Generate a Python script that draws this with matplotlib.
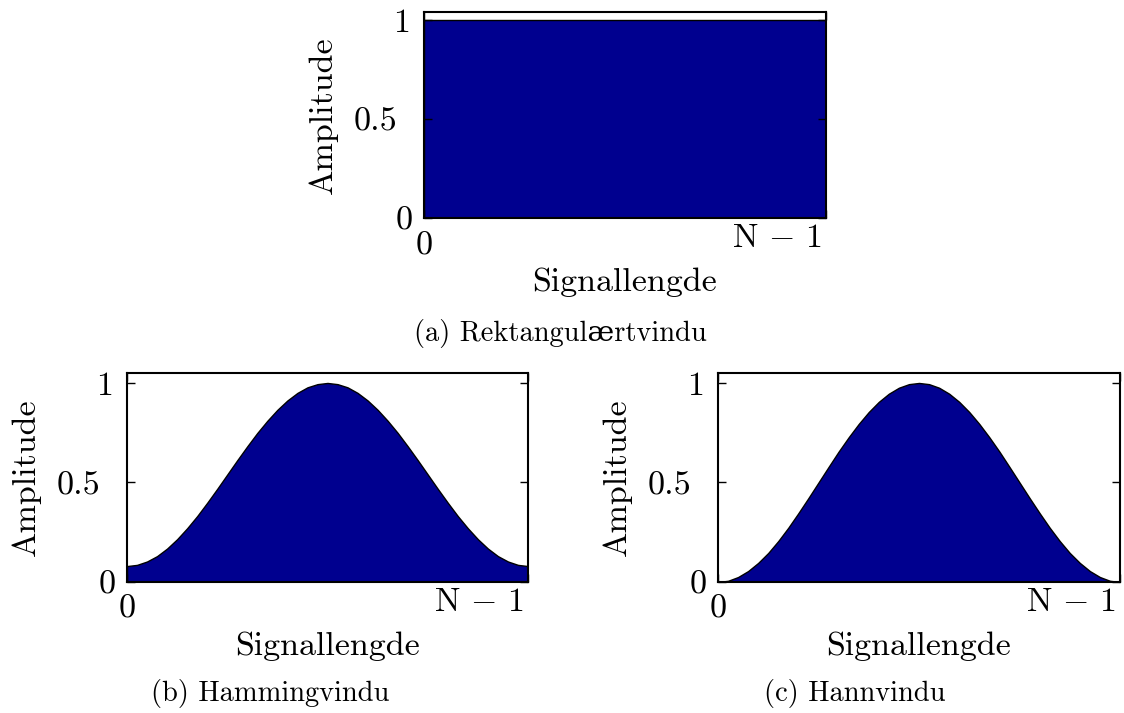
import matplotlib
matplotlib.use('Agg')
import matplotlib.pyplot as plt
from matplotlib.transforms import ScaledTranslation

plt.rcParams['font.family'] = ['cmr10', 'DejaVu Serif']
plt.rcParams['mathtext.fontset'] = 'cm'
plt.rcParams['axes.formatter.use_mathtext'] = True

# sample index 0 .. N-1 (N-1 = 40)
n_rect = [0, 40]
rect_vals = [1.0, 1.0]

n_win = list(range(41))
hamming_vals = [0.080, 0.086, 0.103, 0.130, 0.168, 0.215, 0.270, 0.331, 0.398, 0.468,
                0.540, 0.612, 0.682, 0.749, 0.810, 0.865, 0.912, 0.950, 0.978, 0.994,
                1.000,
                0.994, 0.978, 0.950, 0.912, 0.865, 0.810, 0.749, 0.682, 0.612, 0.540,
                0.468, 0.398, 0.331, 0.270, 0.215, 0.168, 0.130, 0.103, 0.086, 0.080]
hann_vals = [0.000, 0.006, 0.025, 0.055, 0.096, 0.146, 0.206, 0.273, 0.346, 0.422,
             0.500, 0.578, 0.655, 0.727, 0.794, 0.854, 0.905, 0.946, 0.976, 0.994,
             1.000,
             0.994, 0.976, 0.946, 0.905, 0.854, 0.794, 0.727, 0.655, 0.578, 0.500,
             0.422, 0.346, 0.273, 0.206, 0.146, 0.096, 0.055, 0.025, 0.006, 0.000]

yticks = [0, 0.5, 1]
yticklabels = ['0', '0.5', '1']
xticks = [0, 40]
xticklabels = ['0', r'$\mathrm{N}\,-\,1$']
captions = ['(a) Rektangulærtvindu', '(b) Hammingvindu', '(c) Hannvindu']

fill_color = '#00008F'
W, H = 1124, 713
DPI = 100
fig = plt.figure(figsize=(W / DPI, H / DPI), dpi=DPI)

# label offsets in pixels (dx, dy), psfrag-like placement
ylab_shift = [(-11, -11.5), (-27, -12), (-14, -12)]
xlab_shift = [(0, -36), (-4, -29)]


def px_axes(left, top, right, bottom):
    return fig.add_axes([left / W, 1 - bottom / H, (right - left) / W, (bottom - top) / H])


def shift(lab, dx, dy):
    lab.set_transform(lab.get_transform() +
                      ScaledTranslation(dx / DPI, dy / DPI, fig.dpi_scale_trans))


def window_plot(ax, x, y, w_px, h_px, ytop=1.05):
    ax.fill_between(x, 0, y, facecolor=fill_color, edgecolor='black', linewidth=1.0)
    ax.set_xlim(0, 40)
    ax.set_ylim(0, ytop)
    ax.set_yticks(yticks)
    ax.set_yticklabels(yticklabels)
    ax.set_xticks(xticks)
    ax.set_xticklabels(xticklabels)
    ax.tick_params(direction='in', length=6, width=1, labelsize=24.5,
                   right=True, top=True, pad=0)
    for lab, (dx, dy) in zip(ax.get_yticklabels(), ylab_shift):
        lab.set_verticalalignment('baseline')
        shift(lab, dx, dy)
    for i, (lab, (dx, dy)) in enumerate(zip(ax.get_xticklabels(), xlab_shift)):
        lab.set_verticalalignment('baseline')
        if i == 1:
            lab.set_horizontalalignment('right')
        shift(lab, dx, dy)
    for s in ax.spines.values():
        s.set_linewidth(1.5)
    ax.set_xlabel('Signallengde', fontsize=24.5, va='baseline')
    ax.xaxis.set_label_coords(0.5, -73 / h_px)
    ax.set_ylabel('Amplitude', fontsize=24.5, va='center')
    ax.yaxis.set_label_coords(-101 / w_px, 0.5)


ax_a = px_axes(424, 12, 826, 218)
window_plot(ax_a, n_rect, rect_vals, 402, 206, ytop=1.04)

ax_b = px_axes(127, 373, 528, 582)
window_plot(ax_b, n_win, hamming_vals, 401, 209)

ax_c = px_axes(718, 373, 1120, 582)
window_plot(ax_c, n_win, hann_vals, 402, 209)

fig.text(560 / W, 1 - 333 / H, captions[0], fontsize=20.5, ha='center', va='center')
fig.text(270 / W, 1 - 693 / H, captions[1], fontsize=20.5, ha='center', va='center')
fig.text(855 / W, 1 - 693 / H, captions[2], fontsize=20.5, ha='center', va='center')

fig.savefig('out.png', dpi=DPI)
